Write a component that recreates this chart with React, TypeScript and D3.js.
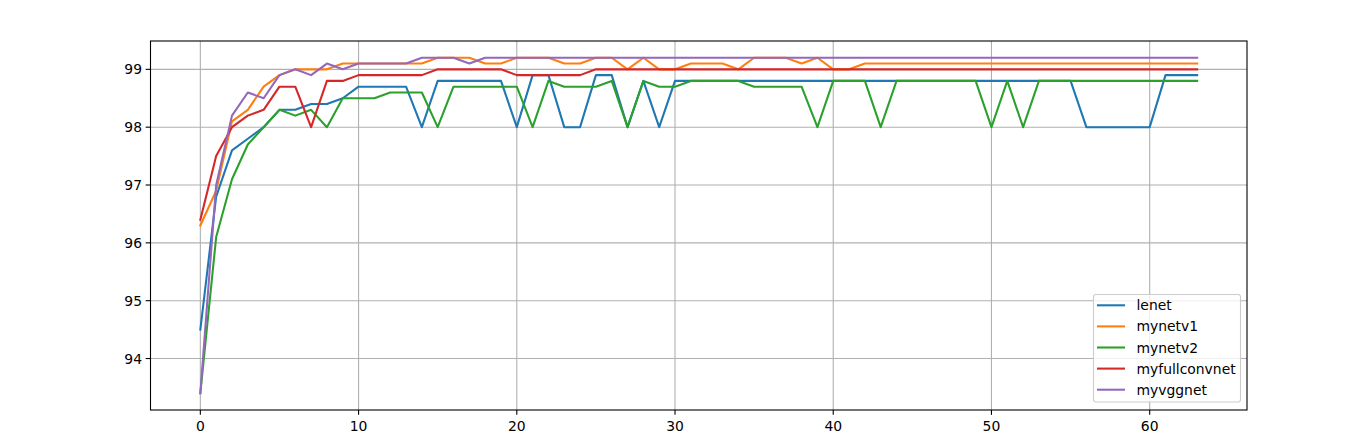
import React from "react";
import * as d3 from "d3";

const seriesNames = ["lenet", "mynetv1", "mynetv2", "myfullconvnet", "myvggnet"];
const seriesColors = ["#1f77b4", "#ff7f0e", "#2ca02c", "#d62728", "#9467bd"];

const lenet = [
  94.5, 96.8, 97.6, 97.8, 98.0, 98.3, 98.3, 98.4, 98.4, 98.5,
  98.7, 98.7, 98.7, 98.7, 98.0, 98.8, 98.8, 98.8, 98.8, 98.8,
  98.0, 98.9, 98.9, 98.0, 98.0, 98.9, 98.9, 98.0, 98.8, 98.0,
  98.8, 98.8, 98.8, 98.8, 98.8, 98.8, 98.8, 98.8, 98.8, 98.8,
  98.8, 98.8, 98.8, 98.8, 98.8, 98.8, 98.8, 98.8, 98.8, 98.8,
  98.8, 98.8, 98.8, 98.8, 98.8, 98.8, 98.0, 98.0, 98.0, 98.0,
  98.0, 98.9, 98.9, 98.9,
];
const mynetv1 = [
  96.3, 96.9, 98.1, 98.3, 98.7, 98.9, 99.0, 99.0, 99.0, 99.1,
  99.1, 99.1, 99.1, 99.1, 99.1, 99.2, 99.2, 99.2, 99.1, 99.1,
  99.2, 99.2, 99.2, 99.1, 99.1, 99.2, 99.2, 99.0, 99.2, 99.0,
  99.0, 99.1, 99.1, 99.1, 99.0, 99.2, 99.2, 99.2, 99.1, 99.2,
  99.0, 99.0, 99.1, 99.1, 99.1, 99.1, 99.1, 99.1, 99.1, 99.1,
  99.1, 99.1, 99.1, 99.1, 99.1, 99.1, 99.1, 99.1, 99.1, 99.1,
  99.1, 99.1, 99.1, 99.1,
];
const mynetv2 = [
  93.4, 96.1, 97.1, 97.7, 98.0, 98.3, 98.2, 98.3, 98.0, 98.5,
  98.5, 98.5, 98.6, 98.6, 98.6, 98.0, 98.7, 98.7, 98.7, 98.7,
  98.7, 98.0, 98.8, 98.7, 98.7, 98.7, 98.8, 98.0, 98.8, 98.7,
  98.7, 98.8, 98.8, 98.8, 98.8, 98.7, 98.7, 98.7, 98.7, 98.0,
  98.8, 98.8, 98.8, 98.0, 98.8, 98.8, 98.8, 98.8, 98.8, 98.8,
  98.0, 98.8, 98.0, 98.8, 98.8, 98.8, 98.8, 98.8, 98.8, 98.8,
  98.8, 98.8, 98.8, 98.8,
];
const myfullconvnet = [
  96.4, 97.5, 98.0, 98.2, 98.3, 98.7, 98.7, 98.0, 98.8, 98.8,
  98.9, 98.9, 98.9, 98.9, 98.9, 99.0, 99.0, 99.0, 99.0, 99.0,
  98.9, 98.9, 98.9, 98.9, 98.9, 99.0, 99.0, 99.0, 99.0, 99.0,
  99.0, 99.0, 99.0, 99.0, 99.0, 99.0, 99.0, 99.0, 99.0, 99.0,
  99.0, 99.0, 99.0, 99.0, 99.0, 99.0, 99.0, 99.0, 99.0, 99.0,
  99.0, 99.0, 99.0, 99.0, 99.0, 99.0, 99.0, 99.0, 99.0, 99.0,
  99.0, 99.0, 99.0, 99.0,
];
const myvggnet = [
  93.4, 97.0, 98.2, 98.6, 98.5, 98.9, 99.0, 98.9, 99.1, 99.0,
  99.1, 99.1, 99.1, 99.1, 99.2, 99.2, 99.2, 99.1, 99.2, 99.2,
  99.2, 99.2, 99.2, 99.2, 99.2, 99.2, 99.2, 99.2, 99.2, 99.2,
  99.2, 99.2, 99.2, 99.2, 99.2, 99.2, 99.2, 99.2, 99.2, 99.2,
  99.2, 99.2, 99.2, 99.2, 99.2, 99.2, 99.2, 99.2, 99.2, 99.2,
  99.2, 99.2, 99.2, 99.2, 99.2, 99.2, 99.2, 99.2, 99.2, 99.2,
  99.2, 99.2, 99.2, 99.2,
];
const allSeries = [lenet, mynetv1, mynetv2, myfullconvnet, myvggnet];

const xTicks = [0, 10, 20, 30, 40, 50, 60];
const yTicks = [94, 95, 96, 97, 98, 99];

const W = 1366;
const H = 445;
const L = 150.5;
const R = 1247;
const T = 41;
const B = 410;
const FONT = "'DejaVu Sans', sans-serif";
const LW = 2.08;
const THIN = 1.1;
const TICK = 4.86;

export default function App() {
  const n = lenet.length;
  const xMin = 0;
  const xMax = n - 1;
  const xPad = (xMax - xMin) * 0.05;
  const allVals = allSeries.flat();
  const yMin = d3.min(allVals) as number;
  const yMax = d3.max(allVals) as number;
  const yPad = (yMax - yMin) * 0.05;

  const x = d3.scaleLinear().domain([xMin - xPad, xMax + xPad]).range([L, R]);
  const y = d3.scaleLinear().domain([yMin - yPad, yMax + yPad]).range([B, T]);

  const line = d3
    .line<number>()
    .x((_, i) => x(i))
    .y((d) => y(d));

  const legX = 1093.5;
  const legY = 294.5;
  const legW = 147;
  const legH = 107.5;
  const rowH = 21.1;

  return (
    <svg
      width={W}
      height={H}
      style={{ position: "absolute", left: 0, top: 0, display: "block", background: "#fff" }}
    >
      <rect x={0} y={0} width={W} height={H} fill="#fff" />
      <defs>
        <clipPath id="clip">
          <rect x={L} y={T} width={R - L} height={B - T} />
        </clipPath>
      </defs>
      {/* grid */}
      {xTicks.map((t) => (
        <line key={"gx" + t} x1={x(t)} x2={x(t)} y1={T} y2={B} stroke="#b0b0b0" strokeWidth={THIN} />
      ))}
      {yTicks.map((t) => (
        <line key={"gy" + t} x1={L} x2={R} y1={y(t)} y2={y(t)} stroke="#b0b0b0" strokeWidth={THIN} />
      ))}
      {/* series */}
      <g clipPath="url(#clip)">
        {allSeries.map((s, k) => (
          <path
            key={seriesNames[k]}
            d={line(s) || ""}
            fill="none"
            stroke={seriesColors[k]}
            strokeWidth={LW}
            strokeLinejoin="round"
            strokeLinecap="square"
          />
        ))}
      </g>
      {/* spines */}
      <rect x={L} y={T} width={R - L} height={B - T} fill="none" stroke="#000" strokeWidth={THIN} />
      {/* x ticks */}
      {xTicks.map((t) => (
        <g key={"xt" + t}>
          <line x1={x(t)} x2={x(t)} y1={B} y2={B + TICK} stroke="#000" strokeWidth={THIN} />
          <text x={x(t)} y={B + 21} textAnchor="middle" fontFamily={FONT} fontSize={13.9} fill="#000">
            {t}
          </text>
        </g>
      ))}
      {/* y ticks */}
      {yTicks.map((t) => (
        <g key={"yt" + t}>
          <line x1={L - TICK} x2={L} y1={y(t)} y2={y(t)} stroke="#000" strokeWidth={THIN} />
          <text
            x={L - 8.5}
            y={y(t) + 5}
            textAnchor="end"
            fontFamily={FONT}
            fontSize={13.9}
            fill="#000"
          >
            {t}
          </text>
        </g>
      ))}
      {/* legend */}
      <rect
        x={legX}
        y={legY}
        width={legW}
        height={legH}
        rx={2.5}
        ry={2.5}
        fill="#fff"
        fillOpacity={0.8}
        stroke="#cccccc"
        strokeWidth={THIN}
      />
      {seriesNames.map((name, k) => {
        const cy = legY + 10.8 + k * rowH;
        return (
          <g key={"leg" + name}>
            <line x1={legX + 3.5} x2={legX + 31.5} y1={cy} y2={cy} stroke={seriesColors[k]} strokeWidth={LW} />
            <text x={legX + 43} y={cy + 5} fontFamily={FONT} fontSize={13.9} fill="#000">
              {name}
            </text>
          </g>
        );
      })}
    </svg>
  );
}
